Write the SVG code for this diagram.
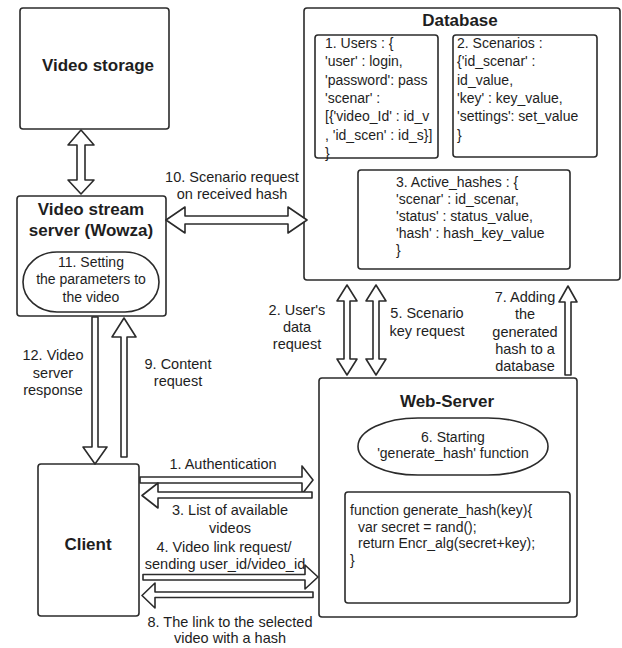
<svg xmlns="http://www.w3.org/2000/svg" width="622" height="648" viewBox="0 0 622 648">
<style>
.box{fill:#fff;stroke:#2b2b2b;stroke-width:1.6}
.arr{fill:#fff;stroke:#2b2b2b;stroke-width:1.6;stroke-linejoin:round}
text{font-family:"Liberation Sans",Arial,sans-serif;fill:#1e1e1e}
.t{font-size:17px;font-weight:bold;text-anchor:middle}
.l{font-size:14.5px;text-anchor:middle}
.c{font-size:14px}
.cm{font-size:14px;text-anchor:middle}
</style>
<rect width="622" height="648" fill="#fff"/>
<g id="video-storage">
<rect class="box" x="20" y="8" width="149" height="121" rx="3"/>
<text class="t" x="98" y="71">Video storage</text>
</g>
<g id="video-stream-server">
<rect class="box" x="17" y="196" width="149" height="120" rx="3"/>
<text class="t" x="91" y="215">Video stream</text>
<text class="t" x="91" y="236">server (Wowza)</text>
<rect class="box" x="23" y="252" width="136" height="60" rx="34" ry="30"/>
<text class="cm" x="91" y="267">11. Setting</text>
<text class="cm" x="91" y="284">the parameters to</text>
<text class="cm" x="91" y="302">the video</text>
</g>
<g id="database">
<rect class="box" x="304" y="8" width="316" height="272" rx="3"/>
<text class="t" x="460" y="26">Database</text>
<rect class="box" x="315" y="35" width="123" height="123" rx="3"/>
<text class="c" x="325"><tspan x="325" y="48">1. Users : {</tspan><tspan x="325" y="66.3">'user' : login,</tspan><tspan x="325" y="84.6">'password': pass</tspan><tspan x="325" y="103">'scenar' :</tspan><tspan x="325" y="121.2">[{'video_Id' : id_v</tspan><tspan x="325" y="139.5">, 'id_scen' : id_s}]</tspan><tspan x="325" y="157.8">}</tspan></text>
<rect class="box" x="453" y="35" width="144" height="122" rx="3"/>
<text class="c" x="457"><tspan x="457" y="48">2. Scenarios :</tspan><tspan x="457" y="66.3">{'id_scenar' :</tspan><tspan x="457" y="84.6">id_value,</tspan><tspan x="457" y="103">'key' : key_value,</tspan><tspan x="457" y="121.2">'settings': set_value</tspan><tspan x="457" y="139.5">}</tspan></text>
<rect class="box" x="358" y="170" width="212" height="99" rx="3"/>
<text class="c" x="396"><tspan x="396" y="187">3. Active_hashes : {</tspan><tspan x="396" y="204">'scenar' : id_scenar,</tspan><tspan x="396" y="221">'status' : status_value,</tspan><tspan x="396" y="238">'hash' : hash_key_value</tspan><tspan x="396" y="255">}</tspan></text>
</g>
<g id="web-server">
<rect class="box" x="319" y="378" width="258" height="239" rx="3"/>
<text class="t" x="447" y="407">Web-Server</text>
<rect class="box" x="358" y="418" width="190" height="57" rx="60" ry="28.5"/>
<text class="cm" x="453" y="442">6. Starting</text>
<text class="cm" x="453" y="458">'generate_hash' function</text>
<rect class="box" x="345" y="492" width="225" height="111" rx="3"/>
<text class="c"><tspan x="350" y="515">function generate_hash(key){</tspan><tspan x="358" y="532">var secret = rand();</tspan><tspan x="358" y="548">return Encr_alg(secret+key);</tspan><tspan x="350" y="565">}</tspan></text>
</g>
<g id="client">
<rect class="box" x="38" y="464" width="101" height="152" rx="3"/>
<text class="t" x="88" y="550">Client</text>
</g>
<g id="connectors">
<path class="arr" d="M81,130 L94,145 L85,145 L85,180 L94,180 L81,194 L68,180 L77,180 L77,145 L68,145 Z"/>
<path class="arr" d="M166,220 L185,207 L185,216 L288,216 L288,207 L307,220 L288,233 L288,224 L185,224 L185,233 Z"/>
<path class="arr" d="M347,285 L357,301 L350,301 L350,359 L357,359 L347,375 L337,359 L344,359 L344,301 L337,301 Z"/>
<path class="arr" d="M376,285 L386,301 L379,301 L379,359 L386,359 L376,375 L366,359 L373,359 L373,301 L366,301 Z"/>
<path class="arr" d="M568,286 L577,302 L571,302 L571,375 L565,375 L565,302 L559,302 Z"/>
<path class="arr" d="M95,464 L107,447 L98,447 L98,317 L92,317 L92,447 L83,447 Z"/>
<path class="arr" d="M124,318 L136,337 L127,337 L127,457 L121,457 L121,337 L112,337 Z"/>
<path class="arr" d="M313,480 L302,466 L302,477 L140,477 L140,483 L302,483 L302,494 Z"/>
<path class="arr" d="M142,495.5 L158,483 L158,492 L312,492 L312,498 L158,498 L158,508 Z"/>
<path class="arr" d="M318,577 L305,565 L305,574.5 L143,574.5 L143,580 L305,580 L305,589 Z"/>
<path class="arr" d="M142,595.5 L155,583 L155,592 L313,592 L313,597.5 L155,597.5 L155,608 Z"/>
</g>
<g id="labels">
<text class="l" x="232" y="182">10. Scenario request</text>
<text class="l" x="232" y="199">on received hash</text>
<text class="l" x="297" y="315">2. User's</text>
<text class="l" x="297" y="332">data</text>
<text class="l" x="297" y="349">request</text>
<text class="l" x="427" y="318">5. Scenario</text>
<text class="l" x="427" y="336">key request</text>
<text class="l" x="525" y="302">7. Adding</text>
<text class="l" x="525" y="319">the</text>
<text class="l" x="525" y="337">generated</text>
<text class="l" x="525" y="354">hash to a</text>
<text class="l" x="525" y="371">database</text>
<text class="l" x="53" y="360">12. Video</text>
<text class="l" x="53" y="378">server</text>
<text class="l" x="53" y="395">response</text>
<text class="l" x="178" y="369">9. Content</text>
<text class="l" x="178" y="386">request</text>
<text class="l" x="223" y="469">1. Authentication</text>
<text class="l" x="230" y="515">3. List of available</text>
<text class="l" x="230" y="533">videos</text>
<text class="l" x="224" y="552">4. Video link request/</text>
<text class="l" x="225" y="569">sending user_id/video_id</text>
<text class="l" x="230" y="627">8. The link to the selected</text>
<text class="l" x="230" y="643">video with a hash</text>
</g>
</svg>
